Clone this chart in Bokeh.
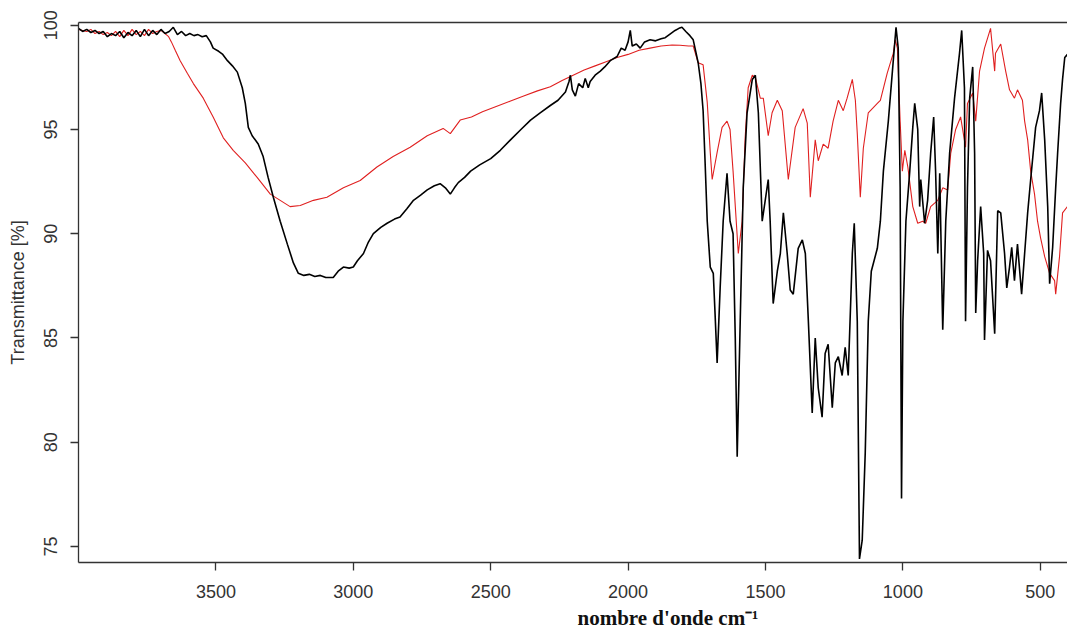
from bokeh.plotting import figure
from bokeh.models import Range1d, FixedTicker, LinearAxis, Title
from bokeh.embed import file_html
from bokeh.resources import INLINE

# ---- data (wavenumber cm-1, transmittance %) ----
black_wn = [4000, 3985, 3970, 3955, 3940, 3925, 3910, 3895, 3880, 3865, 3850, 3835, 3820, 3805, 3790,
            3775, 3760, 3745, 3730, 3715, 3700, 3685, 3670, 3655, 3640, 3625, 3610, 3595, 3580, 3565,
            3550, 3535, 3520, 3510, 3490, 3475, 3458, 3440, 3422, 3404, 3393, 3382, 3368, 3346, 3328,
            3310, 3291, 3266, 3240, 3218, 3200, 3180, 3160, 3140, 3120, 3100, 3073, 3055, 3036, 3015,
            3000, 2985, 2963, 2945, 2927, 2900, 2877, 2850, 2830, 2805, 2781, 2755, 2731, 2705, 2684,
            2665, 2647, 2632, 2618, 2595, 2573, 2540, 2500, 2465, 2428, 2390, 2355, 2320, 2283, 2255,
            2228, 2215, 2210, 2203, 2192, 2180, 2165, 2156, 2145, 2138, 2120, 2101, 2085, 2065, 2040,
            2025, 2011, 2000, 1992, 1985, 1970, 1956, 1940, 1920, 1900, 1880, 1865, 1845, 1829, 1815,
            1804, 1790, 1775, 1763, 1745, 1735, 1727, 1720, 1712, 1701, 1690, 1683, 1676, 1665, 1654,
            1640, 1629, 1618, 1610, 1603, 1592, 1581, 1567, 1548, 1537, 1526, 1512, 1501, 1490, 1483,
            1472, 1457, 1446, 1435, 1421, 1410, 1399, 1381, 1366, 1355, 1344, 1330, 1319, 1308, 1294,
            1283, 1272, 1257, 1246, 1235, 1221, 1210, 1199, 1184, 1177, 1166, 1158, 1148, 1137, 1126,
            1115, 1093, 1082, 1071, 1053, 1035, 1025, 1017, 1010, 1005, 1000, 989, 975, 964, 957,
            946, 939, 935, 921, 910, 899, 888, 881, 873, 866, 855, 844, 830, 812, 794,
            786, 776, 772, 765, 757, 746, 739, 735, 728, 717, 706, 703, 692, 681, 666,
            655, 644, 630, 622, 612, 604, 594, 583, 568, 557, 546, 535, 517, 503, 495,
            484, 473, 466, 455, 444, 437, 426, 419, 411, 401]
black_t = [99.85, 99.7, 99.8, 99.65, 99.75, 99.6, 99.7, 99.45, 99.6, 99.5, 99.7, 99.4, 99.65, 99.5, 99.75,
           99.45, 99.8, 99.5, 99.75, 99.55, 99.8, 99.6, 99.7, 99.9, 99.55, 99.7, 99.5, 99.6, 99.5, 99.55,
           99.45, 99.5, 99.2, 98.9, 98.75, 98.6, 98.3, 98.05, 97.75, 97.0, 96.25, 95.1, 94.7, 94.3, 93.7,
           92.7, 91.75, 90.6, 89.5, 88.6, 88.1, 88.0, 88.05, 87.95, 88.0, 87.9, 87.9, 88.2, 88.4, 88.35,
           88.4, 88.7, 89.05, 89.6, 90.0, 90.3, 90.5, 90.7, 90.8, 91.2, 91.6, 91.85, 92.1, 92.3, 92.4,
           92.2, 91.9, 92.2, 92.45, 92.7, 93.0, 93.3, 93.6, 94.0, 94.5, 95.0, 95.45, 95.8, 96.15, 96.4,
           96.8, 97.3, 97.6, 96.9, 96.6, 97.2, 97.0, 97.45, 97.0, 97.3, 97.6, 97.8, 98.0, 98.3, 98.5,
           98.9, 98.8, 99.2, 99.75, 99.0, 99.1, 98.9, 99.2, 99.3, 99.25, 99.35, 99.4, 99.6, 99.75, 99.85,
           99.9, 99.7, 99.5, 99.3, 98.2, 97.2, 95.9, 93.5, 90.6, 88.4, 88.1, 86.0, 83.8, 87.4, 90.6,
           92.9, 90.6, 90.0, 85.0, 79.3, 85.8, 92.2, 95.8, 97.4, 97.6, 95.8, 90.6, 91.6, 92.6, 90.6,
           86.65, 88.2, 89.05, 91.0, 89.05, 87.3, 87.1, 89.3, 89.7, 89.05, 85.8, 81.4, 85.0, 82.6, 81.2,
           84.25, 84.7, 81.65, 83.8, 84.1, 83.2, 84.55, 83.2, 89.05, 90.5, 85.8, 74.4, 75.3, 79.5, 85.8,
           88.2, 89.3, 90.6, 93.0, 95.4, 98.3, 99.9, 98.9, 92.2, 77.3, 85.8, 90.6, 93.0, 95.1, 96.25,
           95.0, 91.3, 92.6, 90.5, 91.6, 93.85, 95.6, 93.0, 89.05, 92.9, 85.4, 90.6, 93.85, 96.5, 98.65,
           99.75, 97.0, 85.8, 92.2, 96.5, 98.0, 93.85, 86.2, 88.7, 91.3, 89.05, 84.9, 89.2, 88.7, 85.2,
           91.1, 91.0, 89.05, 87.4, 88.4, 89.35, 87.75, 89.5, 87.1, 89.05, 91.0, 92.6, 95.1, 95.9, 96.75,
           94.5, 91.3, 87.6, 89.35, 92.2, 93.85, 96.25, 97.4, 98.45, 98.6]

red_wn = [4000, 3985, 3970, 3955, 3940, 3925, 3910, 3895, 3880, 3865, 3850, 3835, 3820, 3805, 3790,
          3775, 3760, 3745, 3730, 3715, 3700, 3685, 3672, 3662, 3648, 3630, 3604, 3582, 3546, 3510,
          3473, 3437, 3393, 3350, 3302, 3266, 3230, 3193, 3145, 3096, 3036, 2975, 2914, 2855, 2793,
          2731, 2673, 2647, 2611, 2570, 2530, 2480, 2430, 2380, 2330, 2283, 2240, 2200, 2160, 2120,
          2080, 2040, 2000, 1960, 1920, 1880, 1840, 1811, 1780, 1763, 1745, 1727, 1712, 1701, 1694,
          1676, 1658, 1640, 1629, 1618, 1599, 1585, 1574, 1563, 1548, 1537, 1519, 1508, 1490, 1476,
          1457, 1439, 1417, 1392, 1363, 1348, 1337, 1319, 1308, 1290, 1272, 1254, 1235, 1217, 1203,
          1184, 1173, 1166, 1155, 1144, 1126, 1093, 1082, 1057, 1035, 1028, 1020, 1010, 1002, 993,
          982, 964, 946, 928, 917, 899, 873, 855, 837, 826, 808, 790, 772, 765, 746,
          735, 721, 703, 681, 666, 663, 644, 626, 612, 594, 583, 565, 557, 546, 535,
          521, 510, 499, 484, 466, 448, 444, 430, 419, 401]
red_t = [99.8, 99.75, 99.7, 99.8, 99.6, 99.7, 99.55, 99.65, 99.5, 99.7, 99.45, 99.75, 99.5, 99.8, 99.55,
         99.7, 99.5, 99.8, 99.6, 99.7, 99.75, 99.6, 99.45, 99.2, 98.8, 98.3, 97.7, 97.2, 96.5, 95.6,
         94.6, 94.0, 93.4, 92.7, 91.9, 91.6, 91.3, 91.35, 91.6, 91.75, 92.2, 92.55, 93.2, 93.7, 94.15,
         94.7, 95.05, 94.8, 95.45, 95.6, 95.85, 96.1, 96.35, 96.6, 96.85, 97.05, 97.35, 97.6, 97.85, 98.05,
         98.25, 98.45, 98.6, 98.8, 98.9, 99.0, 99.05, 99.04, 99.0, 99.0, 98.2, 98.1, 96.3, 93.9, 92.6,
         93.9, 95.1, 95.4, 95.0, 93.0, 89.05, 90.6, 94.6, 97.0, 97.6, 97.5, 96.5, 96.5, 94.7, 95.8,
         96.4, 95.9, 92.6, 95.1, 96.0, 95.3, 91.75, 94.5, 93.5, 94.3, 94.1, 95.4, 96.4, 95.9, 96.5,
         97.4, 96.4, 94.8, 91.75, 94.1, 95.8, 96.25, 96.4, 97.7, 98.65, 99.3, 98.9, 95.4, 93.0, 94.0,
         93.2, 91.3, 90.5, 90.6, 90.5, 91.3, 91.6, 92.2, 92.1, 93.85, 95.0, 95.6, 94.15, 96.25, 96.75,
         95.4, 97.8, 98.9, 99.85, 97.8, 98.65, 99.1, 97.8, 96.9, 96.5, 96.9, 96.4, 95.4, 94.5, 93.0,
         91.9, 90.6, 89.8, 88.9, 88.1, 87.75, 87.1, 88.9, 91.0, 91.3]

x_ticks = [3500, 3000, 2500, 2000, 1500, 1000, 500]
y_ticks = [75, 80, 85, 90, 95, 100]

x_label = "nombre d'onde cm\u207b\u00b9"
y_label = "Transmittance [%]"

AXIS_COLOR = "#333333"
TEXT_COLOR = "#333333"

p = figure(width=1067, height=637, output_backend="svg", toolbar_location=None,
           x_range=Range1d(4000, 401), y_range=Range1d(74.23, 100.13),
           min_border_left=78, min_border_right=0, min_border_top=22, min_border_bottom=75,
           background_fill_color="white", border_fill_color="white")
p.outline_line_color = None
p.grid.visible = False

p.line(red_wn, red_t, line_color="#e02020", line_width=1.1)
p.line(black_wn, black_t, line_color="#000000", line_width=1.6)

for ax in (p.xaxis[0], p.yaxis[0]):
    ax.axis_line_color = AXIS_COLOR
    ax.axis_line_width = 1.3
    ax.major_tick_line_color = AXIS_COLOR
    ax.major_tick_line_width = 1.3
    ax.major_tick_out = 8
    ax.major_tick_in = 0
    ax.minor_tick_line_color = None
    ax.major_label_text_font = "Liberation Sans"
    ax.major_label_text_font_size = "18px"
    ax.major_label_text_color = TEXT_COLOR

p.xaxis[0].ticker = FixedTicker(ticks=x_ticks)
p.xaxis[0].major_label_standoff = 14
p.yaxis[0].ticker = FixedTicker(ticks=y_ticks)
p.yaxis[0].major_label_orientation = "vertical"
p.yaxis[0].major_label_standoff = 13
p.yaxis[0].axis_label = y_label
p.yaxis[0].axis_label_text_font = "Liberation Sans"
p.yaxis[0].axis_label_text_font_style = "normal"
p.yaxis[0].axis_label_text_font_size = "18px"
p.yaxis[0].axis_label_text_color = TEXT_COLOR
p.yaxis[0].axis_label_standoff = 14

top = LinearAxis(ticker=FixedTicker(ticks=[]), major_label_text_font_size="0px",
                 axis_line_color=AXIS_COLOR, axis_line_width=1.3,
                 major_tick_line_color=None, minor_tick_line_color=None)
p.add_layout(top, "above")

p.add_layout(Title(text=x_label, align="left", offset=499, standoff=7,
                   text_font="Liberation Serif", text_font_style="bold", text_font_size="21px",
                   text_color="#111111"), "below")

open("out.html", "w").write(file_html(p, INLINE))
